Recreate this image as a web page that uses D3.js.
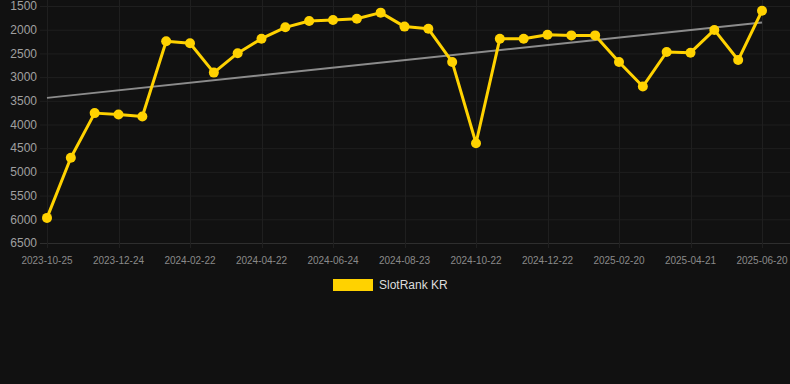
<!DOCTYPE html>
<html>
<head>
<meta charset="utf-8">
<script src="https://cdn.jsdelivr.net/npm/d3@7"></script>
<style>
  html, body { margin: 0; padding: 0; background: #111111; }
  svg { display: block; }
</style>
</head>
<body>
<div id="chart"></div>
<script>
let WIDTH = 790;
let HEIGHT = 384;

// one point roughly every 20 days
let dates = [
  "2023-10-25", "2023-11-14", "2023-12-04", "2023-12-24", "2024-01-13", "2024-02-02",
  "2024-02-22", "2024-03-13", "2024-04-02", "2024-04-22", "2024-05-13", "2024-06-03",
  "2024-06-24", "2024-07-14", "2024-08-03", "2024-08-23", "2024-09-12", "2024-10-02",
  "2024-10-22", "2024-11-11", "2024-12-01", "2024-12-22", "2025-01-11", "2025-01-31",
  "2025-02-20", "2025-03-12", "2025-04-01", "2025-04-21", "2025-05-11", "2025-05-31",
  "2025-06-20"
];
let ranks = [
  5970, 4700, 3760, 3790, 3830, 2245,
  2285, 2905, 2495, 2190, 1950, 1815,
  1795, 1770, 1640, 1935, 1980, 2680,
  4395, 2190, 2190, 2105, 2120, 2120,
  2680, 3200, 2470, 2485, 2005, 2640,
  1600
];
let tickLabels = [
  "2023-10-25", "2023-12-24", "2024-02-22", "2024-04-22", "2024-06-24", "2024-08-23",
  "2024-10-22", "2024-12-22", "2025-02-20", "2025-04-21", "2025-06-20"
];
let yTicks = [1500, 2000, 2500, 3000, 3500, 4000, 4500, 5000, 5500, 6000, 6500];
let seriesName = "SlotRank KR";

const marginLeft = 47;
const marginRight = 28;
const marginTop = 6;
const plotBottom = 243;
const gridLeft = 40;

const x = d3.scalePoint()
    .domain(dates)
    .range([marginLeft, WIDTH - marginRight]);

const y = d3.scaleLinear()
    .domain([1500, 6500])
    .range([marginTop, plotBottom]);

const svg = d3.select("#chart").append("svg")
    .attr("width", WIDTH)
    .attr("height", HEIGHT)
    .style("font-family", "Arial, 'Liberation Sans', sans-serif");

svg.append("rect").attr("width", WIDTH).attr("height", HEIGHT).attr("fill", "#111111");

// horizontal grid
svg.append("g")
  .selectAll("line")
  .data(yTicks)
  .join("line")
    .attr("x1", gridLeft)
    .attr("x2", WIDTH)
    .attr("y1", d => y(d) + 0.5)
    .attr("y2", d => y(d) + 0.5)
    .attr("stroke", d => d === 6500 ? "#2e2e2e" : "#1f1f1f")
    .attr("stroke-width", 1);

// vertical grid
svg.append("g")
  .selectAll("line")
  .data(tickLabels)
  .join("line")
    .attr("x1", d => Math.round(x(d)) + 0.5)
    .attr("x2", d => Math.round(x(d)) + 0.5)
    .attr("y1", 0)
    .attr("y2", plotBottom + 5)
    .attr("stroke", "#1f1f1f")
    .attr("stroke-width", 1);

// y labels
svg.append("g")
  .selectAll("text")
  .data(yTicks)
  .join("text")
    .attr("x", 37)
    .attr("y", d => y(d))
    .attr("dy", "0.35em")
    .attr("text-anchor", "end")
    .attr("fill", "#a0a0a0")
    .attr("font-size", 12)
    .text(d => d);

// x labels
svg.append("g")
  .selectAll("text")
  .data(tickLabels)
  .join("text")
    .attr("x", d => x(d))
    .attr("y", 260)
    .attr("dy", "0.35em")
    .attr("text-anchor", "middle")
    .attr("fill", "#8a8a8a")
    .attr("font-size", 10)
    .text(d => d);

// trend line (least squares over the points)
const idx = ranks.map((v, i) => i);
const mx = d3.mean(idx), my = d3.mean(ranks);
const slope = d3.sum(idx, i => (i - mx) * (ranks[i] - my)) / d3.sum(idx, i => (i - mx) * (i - mx));
const icpt = my - slope * mx;
const last = dates.length - 1;
svg.append("line")
    .attr("x1", x(dates[0]))
    .attr("y1", y(icpt))
    .attr("x2", x(dates[last]))
    .attr("y2", y(icpt + slope * last))
    .attr("stroke", "#8c8c8c")
    .attr("stroke-width", 2);

// series
const line = d3.line().x((d, i) => x(dates[i])).y(d => y(d));
svg.append("path")
    .attr("fill", "none")
    .attr("stroke", "#ffd200")
    .attr("stroke-width", 3)
    .attr("stroke-linejoin", "round")
    .attr("d", line(ranks));

svg.append("g")
  .selectAll("circle")
  .data(ranks)
  .join("circle")
    .attr("cx", (d, i) => x(dates[i]))
    .attr("cy", d => y(d))
    .attr("r", 5)
    .attr("fill", "#ffd200");

// legend
svg.append("rect")
    .attr("x", 333)
    .attr("y", 279)
    .attr("width", 40)
    .attr("height", 12)
    .attr("fill", "#ffd200");
svg.append("text")
    .attr("x", 379)
    .attr("y", 285)
    .attr("dy", "0.35em")
    .attr("fill", "#dddddd")
    .attr("font-size", 12)
    .text(seriesName);
</script>
</body>
</html>
